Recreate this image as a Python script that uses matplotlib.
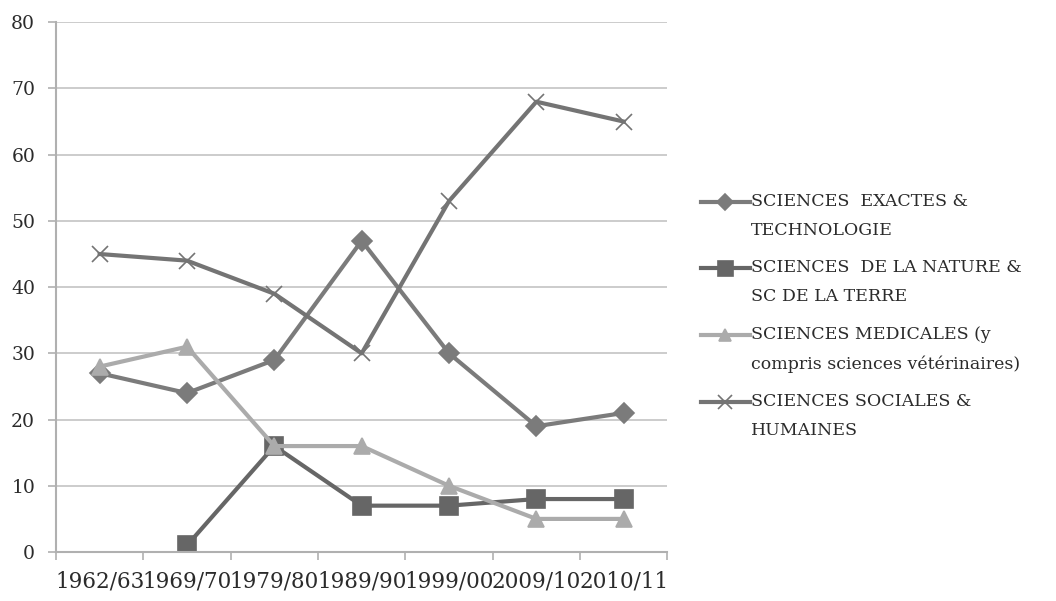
import matplotlib
matplotlib.use("Agg")
import matplotlib.pyplot as plt
from matplotlib.legend_handler import HandlerLine2D
import numpy as np

# ---------------------------------------------------------------------------
# Data
# ---------------------------------------------------------------------------
YEARS = ["1962/63", "1969/70", "1979/80", "1989/90", "1999/00", "2009/10", "2010/11"]
EXACTES  = [27, 24, 29, 47, 30, 19, 21]
NATURE   = [np.nan, 1, 16, 7, 7, 8, 8]
MEDICALES = [28, 31, 16, 16, 10, 5, 5]
SOCIALES = [45, 44, 39, 30, 53, 68, 65]

LABELS = [
    "SCIENCES  EXACTES &\nTECHNOLOGIE",
    "SCIENCES  DE LA NATURE &\nSC DE LA TERRE",
    "SCIENCES MEDICALES (y\ncompris sciences vétérinaires)",
    "SCIENCES SOCIALES &\nHUMAINES",
]

plt.rcParams.update({
    "font.family": "DejaVu Serif",
    "font.size": 13,
})

LEG_FS = 12.5
TEXT_COL = "#2b2b2b"


class TopLineHandler(HandlerLine2D):
    """Put the legend handle level with the first line of a two-line label."""
    def create_artists(self, legend, orig_handle, xdescent, ydescent,
                       width, height, fontsize, trans):
        return super().create_artists(legend, orig_handle, xdescent,
                                      ydescent - 1.65 * fontsize, width, height,
                                      fontsize, trans)


fig = plt.figure(figsize=(10.56, 6.01), dpi=100)
ax = fig.add_axes([0.053, 0.0815, 0.579, 0.8815])

x = np.arange(len(YEARS))
series = [
    (EXACTES,   "#7b7b7b", "D", 10),
    (NATURE,    "#666666", "s", 13.5),
    (MEDICALES, "#ababab", "^", 11),
    (SOCIALES,  "#747474", "x", 12),
]
lines = []
for (vals, col, mk, ms), lab in zip(series, LABELS):
    ln, = ax.plot(x, vals, color=col, lw=3, marker=mk, markersize=ms,
                  markerfacecolor=col, markeredgecolor=col, markeredgewidth=1.2,
                  label=lab)
    lines.append(ln)

ax.set_xlim(-0.5, len(YEARS) - 0.5)
ax.set_ylim(0, 80)
ax.set_yticks(range(0, 81, 10))
ax.yaxis.grid(True, color="#c4c4c4", lw=1.2)
ax.set_axisbelow(True)

ax.set_xticks(x)
ax.set_xticklabels(YEARS)
ax.set_xticks(np.arange(-0.5, len(YEARS)), minor=True)
ax.tick_params(axis="x", which="major", length=0, pad=13, colors=TEXT_COL, labelsize=15.5)
ax.tick_params(axis="x", which="minor", length=6, color="#b0b0b0", width=1.2)
ax.tick_params(axis="y", length=6, color="#b0b0b0", width=1.2, colors=TEXT_COL,
               labelsize=13.5, pad=9)

for s in ["top", "right"]:
    ax.spines[s].set_visible(False)
ax.spines["left"].set_color("#b0b0b0")
ax.spines["left"].set_linewidth(1.5)
ax.spines["bottom"].set_color("#b0b0b0")
ax.spines["bottom"].set_linewidth(1.5)

leg = fig.legend(handles=lines, loc="upper left", bbox_to_anchor=(0.649, 0.705),
                 frameon=False, handlelength=2.8, handletextpad=0.1,
                 labelspacing=1.2, fontsize=LEG_FS, markerscale=0.8,
                 handler_map={ln: TopLineHandler() for ln in lines})
for t in leg.get_texts():
    t.set_color(TEXT_COL)
    t.set_linespacing(1.9)

fig.savefig("out.png", dpi=100)
